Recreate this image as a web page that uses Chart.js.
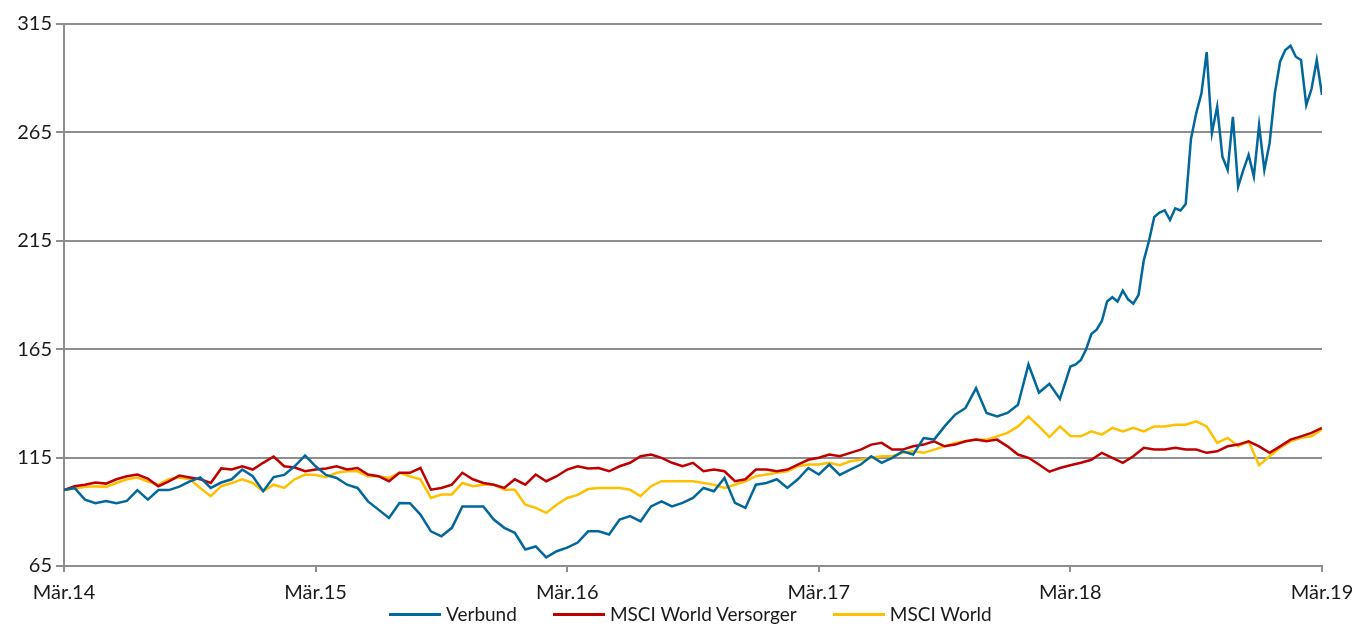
<!DOCTYPE html>
<html><head><meta charset="utf-8">
<script src="https://cdn.jsdelivr.net/npm/chart.js@4.4.1/dist/chart.umd.min.js"></script>
<style>
html,body{margin:0;padding:0;background:#fff;}
#wrap{position:relative;width:1352px;height:626px;}
#legend{position:absolute;left:389px;top:603px;display:flex;gap:36px;font:19px Lato,sans-serif;color:#1a1a1a;line-height:22px;}
.li{display:flex;align-items:center;white-space:nowrap;}
.li i{display:inline-block;width:52px;height:3px;margin-right:5px;}
</style></head>
<body>
<div id="wrap"><canvas id="c" width="1352" height="626"></canvas><div id="legend"></div></div>
<script>
// x axis in months since Mär.14
const xLabels=['Mär.14','Mär.15','Mär.16','Mär.17','Mär.18','Mär.19'];
const yTicks=[65,115,165,215,265,315];
const stepMonths=0.5;      // half-month samples
const lateStart=48, lateStep=0.25;  // finer samples for Verbund from Mär.18

const verbund=[100,101,95.6,94,95,94,95,100,95.6,100,100,101.6,104,105.8,101,103.5,105,109.5,106.4,99.5,
  106,107,111,116,111,107,105.6,102.5,101,94.8,91,87.2,94.1,94,88.7,81,78.7,82.6,92.5,92.5,
  92.5,86.4,82.6,80.3,72.6,74,69,71.8,73.5,75.8,81,81,79.5,86.4,88,85.6,92.5,94.8,92.5,94.1,
  96.4,101,99.5,105.6,94.1,91.8,102.5,103.3,105,101,105,110.2,107.2,111.8,107,109.5,111.8,115.6,112.6,114.9,
  117.9,116.4,124,123.3,129.4,134.8,137.9,147,135.6,134,135.6,139.4,158,145,149,142];
const verbundLate=[157,158,160,165,172,174,178,187,189,187,192,188,186,190,206,215,226,228,229,224.6,
  230,229,232,262,273.8,283,302,264.7,276.9,253.8,247.7,272.2,240,247.7,254.6,244.6,268.4,247.7,260,283,
  297.6,303,305,299.9,298.4,277.6,285,298.4,282.3];
const versorger=[100,101.8,102.5,103.5,103,105,106.4,107.2,105.3,101.8,104,106.7,105.8,105,103.3,110,109.5,111,109.5,112.6,
  115.5,111,110.4,108.7,109.5,110,111,109.5,110.2,107.2,106.4,104.1,108,108,110.2,100.2,101,102.5,108,105,
  103.3,102.5,101,105,102.5,107.2,104.1,106.4,109.5,111,110,110.2,108.7,111,112.6,115.6,116.4,114.9,112.6,111,
  112.6,108.7,109.5,108.7,104.1,105,109.5,109.5,108.7,109.5,111.8,114,114.9,116.4,115.6,117.2,118.7,121,121.8,118.7,
  118.7,120.2,121,122.5,120.2,121,122.5,123.3,122.5,123.3,120.2,116.4,114.9,111.8,108.5,110.2,111.5,112.6,114,117.2,
  114.9,112.6,115.6,119.5,118.7,118.7,119.5,118.7,118.7,117.2,117.9,120.2,121,122.5,120.2,117.2,120.2,123.3,124.8,126.4,
  128.7];
const world=[100,100.6,101.5,101.8,101.5,103.3,105,105.8,104,102.5,105,105.8,105,101,97.2,101.8,103.3,105,103.3,99.5,
  102.5,101,105,107.2,107,106,108,108.7,108.7,106.4,106.4,105.6,108,106.4,105,96.4,98,98,103.3,101.8,
  102.5,102.5,100.2,100.2,93.3,91.8,89.5,93.3,96.4,97.8,100.5,101,101,101,100.2,97.2,101.8,104.1,104.1,104.1,
  104.1,103.3,102.5,101,102.5,104.1,106.4,107.2,108,108.7,111,111.8,111.8,112.6,111.5,113.3,114,114.9,115.6,115.6,
  117.2,117.9,117.2,118.7,120.2,121.8,122.5,123.3,123.3,124.8,126.4,129.4,134,129.4,124.5,129.4,125,124.8,127.1,125.6,
  128.7,127.1,128.7,127.1,129.4,129.4,130.2,130.2,131.7,129.4,121.8,124.1,120.2,122.5,111.5,115.6,119.5,122.5,124.1,124.8,
  127.9];

const seriesNames=['Verbund','MSCI World Versorger','MSCI World'];
const seriesColors=['#02679B','#C00000','#FFC000'];

const FONT='Lato, "Open Sans", sans-serif';
const GRID='#8e8e8e';
const pts=(arr,start=0,step=stepMonths)=>arr.map((v,i)=>({x:start+i*step,y:v}));
const verbundPts=pts(verbund).concat(pts(verbundLate,lateStart,lateStep));

new Chart(document.getElementById('c'),{
  type:'line',
  data:{datasets:[verbundPts,pts(versorger),pts(world)].map((d,i)=>({
    label:seriesNames[i],data:d,borderColor:seriesColors[i],borderWidth:2.5,
    pointRadius:0,tension:0,fill:false
  }))},
  options:{
    responsive:false,animation:false,devicePixelRatio:1,
    layout:{padding:{left:0,right:30,top:24,bottom:24}},
    plugins:{legend:{display:false},tooltip:{enabled:false}},
    scales:{
      x:{type:'linear',min:0,max:60,
        afterFit:s=>{s.height=36;s.paddingLeft=0;s.paddingRight=0;},
        afterBuildTicks:s=>{s.ticks=xLabels.map((_,i)=>({value:i*12}));},
        grid:{drawOnChartArea:false,drawTicks:true,tickLength:6,color:GRID,lineWidth:2},
        border:{display:true,color:GRID,width:2},
        ticks:{autoSkip:false,maxRotation:0,padding:9,color:'#1a1a1a',font:{family:FONT,size:20},
          callback:v=>xLabels[Math.round(v/12)]}
      },
      y:{min:65,max:315,
        afterFit:s=>{s.width=64;},
        afterBuildTicks:s=>{s.ticks=yTicks.map(v=>({value:v}));},
        grid:{color:GRID,lineWidth:2,tickLength:8},
        border:{display:true,color:GRID,width:2},
        ticks:{padding:4,color:'#1a1a1a',font:{family:FONT,size:20}}
      }
    }
  }
});

document.getElementById('legend').innerHTML=seriesNames.map((n,i)=>
  `<span class="li"><i style="background:${seriesColors[i]}"></i>${n}</span>`).join('');
</script>
</body></html>
